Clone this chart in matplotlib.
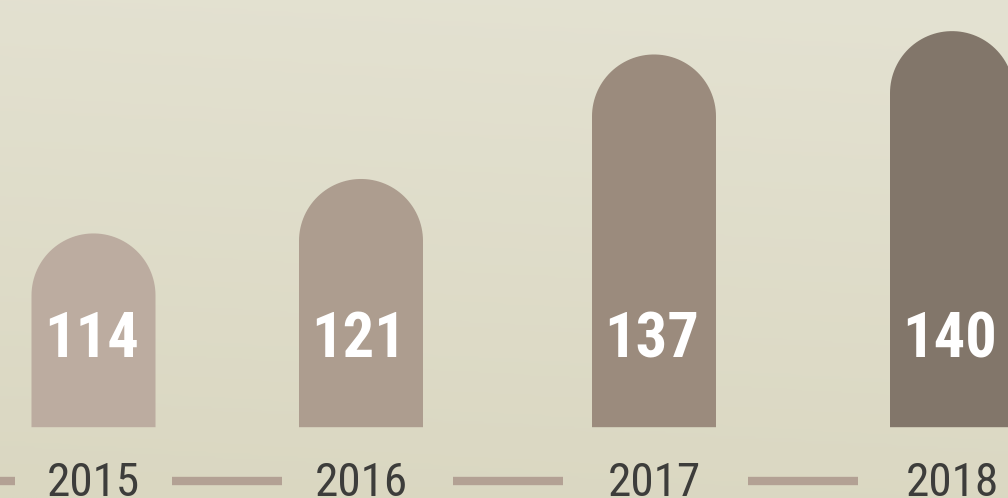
import numpy as np
import matplotlib
matplotlib.use("Agg")
import matplotlib.pyplot as plt
from matplotlib.path import Path
from matplotlib.patches import PathPatch
from matplotlib.colors import LinearSegmentedColormap

# data
years = ["2015", "2016", "2017", "2018"]
values = [114, 121, 137, 140]
bar_colors = ["#bcaca0", "#ad9d8f", "#9b8b7d", "#82766a"]

# layout (pixel x positions, value axis range)
x_centers = [93.5, 361, 654, 952]
bar_w = 124
base = 89.1
y_lo, y_hi = 80.0, 144.0

fig = plt.figure(figsize=(10.08, 4.98), dpi=100)
ax = fig.add_axes([0, 0, 1, 1])
ax.set_xlim(0, 1008)
ax.set_ylim(y_lo, y_hi)
ax.axis("off")

# background gradient, lighter at the top
bg = LinearSegmentedColormap.from_list("bg", ["#e4e2d2", "#dad7c1"])
gy, gx = np.mgrid[0:1:200j, 0:1:200j]
grad = gy * 0.9 + (1 - gx) * 0.1
ax.imshow(grad, cmap=bg, extent=[0, 1008, y_lo, y_hi], aspect="auto", zorder=0)
ax.set_ylim(y_lo, y_hi)

# radius of the rounded top in value units (round in pixels)
px_per_unit = 498 / (y_hi - y_lo)
r = bar_w / 2
ry = r / px_per_unit

t = np.linspace(np.pi, 0, 60)
for xc, v, c in zip(x_centers, values, bar_colors):
    top = v - ry
    verts = [(xc - r, base), (xc - r, top)]
    verts += [(xc + r * np.cos(a), top + ry * np.sin(a)) for a in t]
    verts += [(xc + r, base), (xc - r, base)]
    codes = [Path.MOVETO] + [Path.LINETO] * (len(verts) - 2) + [Path.CLOSEPOLY]
    ax.add_patch(PathPatch(Path(verts, codes), facecolor=c, edgecolor="none", zorder=2))
    ax.text(xc - 2, 0.283, str(v), transform=ax.get_xaxis_transform(),
            ha="center", va="baseline", color="white", fontsize=45,
            fontweight="bold", family="Roboto Condensed", zorder=3)

# year labels along the bottom with dashes in between
for xc, yr in zip(x_centers, years):
    ax.text(xc, 0.005, yr, transform=ax.get_xaxis_transform(),
            ha="center", va="baseline", color="#3d3d3b", fontsize=34,
            family="Roboto Condensed", zorder=3)

mids = [x_centers[0] - 134] + [(a + b) / 2 for a, b in zip(x_centers[:-1], x_centers[1:])]
for m in mids:
    ax.plot([m - 55, m + 55], [0.034, 0.034], transform=ax.get_xaxis_transform(),
            color="#b3a194", lw=6, solid_capstyle="butt", zorder=2)

plt.savefig("out.png", dpi=100)
plt.close()
